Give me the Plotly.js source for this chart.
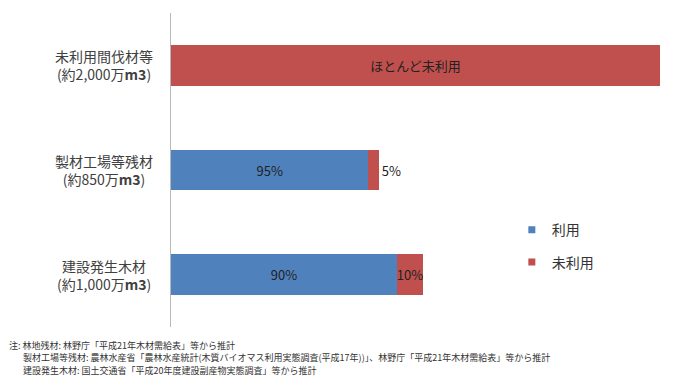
<!DOCTYPE html>
<html>
<head>
<meta charset="utf-8">
<script src="https://cdn.plot.ly/plotly-3.0.1.min.js"></script>
<style>html,body{margin:0;padding:0;background:#fff;}#chart{width:700px;height:385px;}</style>
</head>
<body>
<div id="chart"></div>
<script>
// Data (volumes in 万m3)
const categories = ['未利用間伐材等', '製材工場等残材', '建設発生木材'];
const volumeLabels = ['(約2,000万<b>m3</b>)', '(約850万<b>m3</b>)', '(約1,000万<b>m3</b>)'];
const usedValues = [0, 807.5, 925];
const unusedValues = [2000, 42.5, 105];
const usedLabels = ['', '95%', '90%'];
const unusedLabels = ['ほとんど未利用', '5%', '10%'];
const seriesNames = ['利用', '未利用'];
const notes = [
  '注: 林地残材: 林野庁「平成21年木材需給表」等から推計',
  '製材工場等残材: 農林水産省「農林水産統計(木質バイオマス利用実態調査(平成17年))」、林野庁「平成21年木材需給表」等から推計',
  '建設発生木材: 国土交通省「平成20年度建設副産物実態調査」等から推計'
];

const BLUE = '#4f81bd', RED = '#c0504d';
const FONT = '"Noto Sans CJK JP", "Noto Sans", sans-serif';

const traces = [
  {
    type: 'bar', orientation: 'h', y: categories, x: usedValues,
    marker: {color: BLUE}, text: usedLabels, textposition: 'inside',
    insidetextanchor: 'middle', textangle: 0, constraintext: 'none',
    textfont: {size: 13, color: '#222', family: FONT},
    showlegend: false, hoverinfo: 'none'
  },
  {
    type: 'bar', orientation: 'h', y: categories, x: unusedValues,
    marker: {color: RED}, text: unusedLabels,
    textposition: ['inside', 'outside', 'inside'],
    insidetextanchor: 'middle', textangle: 0, constraintext: 'none', cliponaxis: false,
    textfont: {size: 13, color: '#222', family: FONT},
    showlegend: false, hoverinfo: 'none'
  },
  {
    type: 'scatter', mode: 'markers', x: [null], y: [null], name: seriesNames[0],
    marker: {symbol: 'square', size: 7, color: BLUE}, legendgroup: 'a', showlegend: true
  },
  {
    type: 'scatter', mode: 'markers', x: [null], y: [null], name: seriesNames[1],
    marker: {symbol: 'square', size: 7, color: RED}, legendgroup: 'b', showlegend: true
  }
];

const annotations = categories.map((c, i) => ({
  xref: 'paper', yref: 'y', x: -0.137, y: c, xanchor: 'center', yanchor: 'middle',
  text: c + '<br>' + volumeLabels[i], showarrow: false, align: 'center',
  font: {size: 14, color: '#404040', family: FONT}
}));
const noteX = [-0.3354, -0.3067, -0.3067];
const noteY = [346, 358.5, 371];
notes.forEach((n, i) => {
  annotations.push({
    xref: 'paper', yref: 'paper', x: noteX[i], y: (327.5 - noteY[i]) / 315,
    xanchor: 'left', yanchor: 'middle', text: n, showarrow: false,
    font: {size: 9, color: '#333', family: FONT}
  });
});

const layout = {
  width: 700, height: 385,
  margin: {l: 171, r: 40, t: 12.5, b: 57.5},
  paper_bgcolor: '#fff', plot_bgcolor: '#fff',
  barmode: 'stack', bargap: 0.61,
  font: {family: FONT, color: '#404040'},
  xaxis: {range: [0, 2000], visible: false, fixedrange: true},
  yaxis: {
    autorange: 'reversed', showticklabels: false, ticks: '', showgrid: false, zeroline: false,
    showline: true, linecolor: '#b8b8b8', linewidth: 1.5, fixedrange: true
  },
  legend: {
    x: 0.697, y: 0.359, xanchor: 'left', yanchor: 'top', traceorder: 'grouped',
    tracegroupgap: 11, font: {size: 14, color: '#333', family: FONT},
    bgcolor: 'rgba(0,0,0,0)', itemwidth: 30
  },
  annotations: annotations,
  showlegend: true
};

Plotly.newPlot('chart', traces, layout, {displayModeBar: false, staticPlot: true});
</script>
</body>
</html>
